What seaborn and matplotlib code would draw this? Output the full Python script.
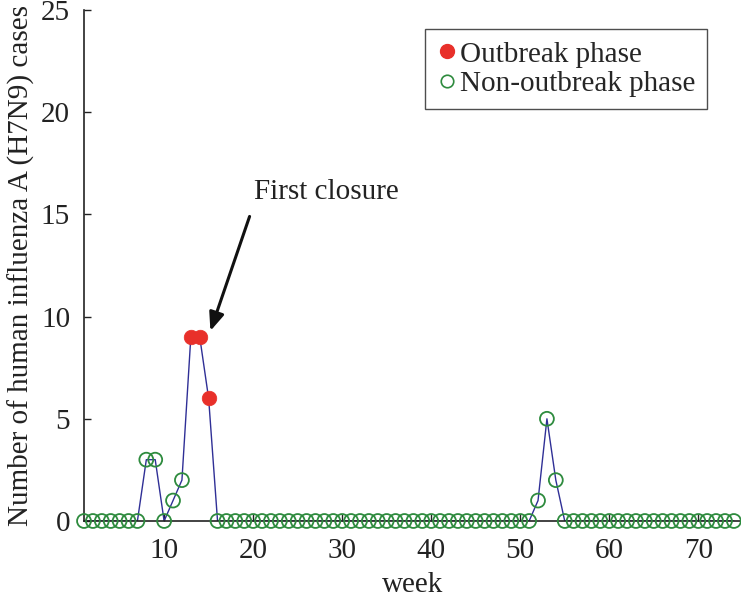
import numpy as np
import pandas as pd
import matplotlib
matplotlib.use("Agg")
import matplotlib.pyplot as plt
import seaborn as sns
from matplotlib.lines import Line2D

weeks = list(range(1, 75))
cases = [0, 0, 0, 0, 0, 0, 0, 3, 3, 0, 1, 2, 9, 9, 6, 0] + [0] * 35 + [1, 5, 2, 0] + [0] * 19
outbreak_weeks = [13, 14, 15]

df = pd.DataFrame({"week": weeks, "cases": cases})
df["phase"] = np.where(df["week"].isin(outbreak_weeks), "Outbreak phase", "Non-outbreak phase")

sns.set_style("ticks")
plt.rcParams["font.family"] = ["Liberation Serif", "DejaVu Serif"]

fig = plt.figure(figsize=(7.41, 5.98), dpi=100)
ax = fig.add_axes([84 / 741, 77 / 598, (741 - 84) / 741, 511 / 598])

line_col = "#2F2F96"
red = "#E8302A"
green = "#2E8B3E"

sns.lineplot(data=df, x="week", y="cases", ax=ax, color=line_col, lw=1.0, zorder=2)
non = df[df["phase"] == "Non-outbreak phase"]
out = df[df["phase"] == "Outbreak phase"]
sns.scatterplot(data=non, x="week", y="cases", ax=ax, s=100, facecolor="none",
                edgecolor=green, linewidth=1.3, zorder=3, clip_on=False)
sns.scatterplot(data=out, x="week", y="cases", ax=ax, s=110, color=red,
                edgecolor=red, linewidth=0.5, zorder=4, clip_on=False)

ax.set_xlim(1, 74.8)
ax.set_ylim(0, 25)
ax.set_xticks([10, 20, 30, 40, 50, 60, 70])
ax.set_yticks([0, 5, 10, 15, 20, 25])
ax.tick_params(direction="in", length=5, width=1, labelsize=21, colors="#222222")
ax.tick_params(axis="x", pad=12)
ax.tick_params(axis="y", pad=10)
for s in ["top", "right"]:
    ax.spines[s].set_visible(False)
for s in ["left", "bottom"]:
    ax.spines[s].set_color("#222222")
    ax.spines[s].set_linewidth(1.2)

ax.set_xlabel("week", fontsize=21, labelpad=6, color="#222222")
ax.set_ylabel("Number of human influenza A (H7N9) cases", fontsize=21, labelpad=4, color="#222222")

ax.annotate("", xy=(15.2, 9.3), xytext=(19.6, 14.9),
            arrowprops=dict(arrowstyle="-|>,head_length=1.1,head_width=0.45", color="#111111",
                            lw=2.2, shrinkA=0, shrinkB=0),
            annotation_clip=False)
ax.text(28.2, 16.1, "First closure", fontsize=21, color="#222222", ha="center", va="center")

handles = [
    Line2D([0], [0], marker="o", color="none", markerfacecolor=red, markeredgecolor=red, markersize=10),
    Line2D([0], [0], marker="o", color="none", markerfacecolor="none", markeredgecolor=green,
           markeredgewidth=1.2, markersize=9),
]
leg = ax.legend(handles, ["Outbreak phase", "Non-outbreak phase"], loc="upper right",
                bbox_to_anchor=(0.948, 0.962), fontsize=21, frameon=True, fancybox=False,
                handlelength=0.7, handletextpad=0.1, borderpad=0.4, labelspacing=0.1,
                borderaxespad=0)
leg.get_frame().set_edgecolor("#222222")
leg.get_frame().set_linewidth(1.0)

fig.savefig("out.png", dpi=100)
